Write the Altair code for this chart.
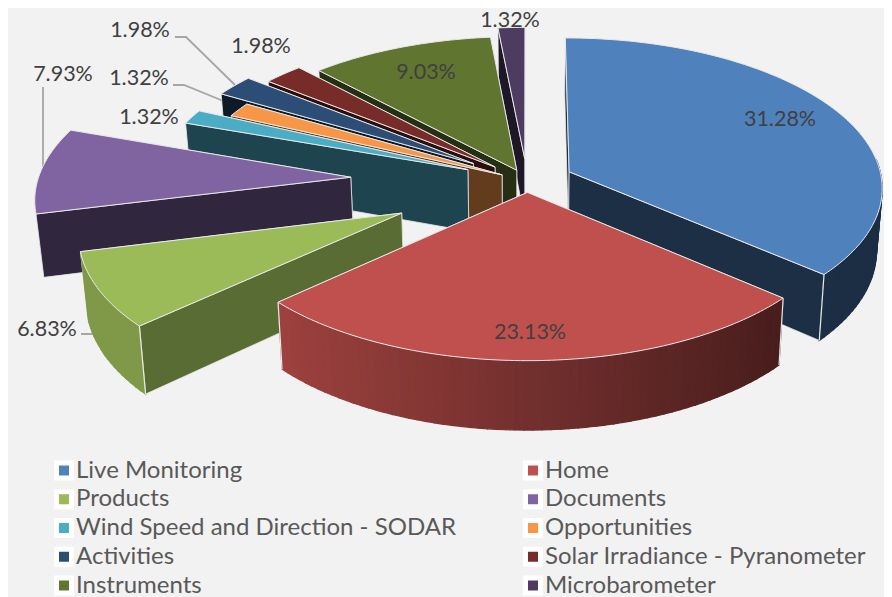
import math
import altair as alt

# ---- data ----
names = ["Live Monitoring", "Home", "Products", "Documents",
         "Wind Speed and Direction - SODAR", "Opportunities", "Activities",
         "Solar Irradiance - Pyranometer", "Instruments", "Microbarometer"]
shares = [31.28, 23.13, 6.83, 7.93, 1.32, 1.32, 1.98, 1.98, 9.03, 1.32]
colors = ["#4f81bd", "#c0504d", "#9bbb59", "#8064a2", "#4bacc6",
          "#f79646", "#2c4d75", "#772c2a", "#5f7530", "#4d3b62"]
labels = ["31.28%", "23.13%", "6.83%", "7.93%", "1.32%",
          "1.32%", "1.98%", "1.98%", "9.03%", "1.32%"]

# ---- look of the 3D pie ----
explode = [0.149, 0.076, 0.445, 0.565, 0.205, 0.09, 0.21, 0.14, 0.08, 0.15]
wall_shade = [0.37, 0.40, 0.58, 0.38, 0.40, 0.40, 0.35, 0.35, 0.40, 0.40]
paint_order = [9, 8, 7, 6, 5, 4, 3, 2, 0, 1]
CX, CY, RX, RY, D, H, K = 527, 181, 313, 149, 10.0, 62, 0.016
OFF = 8  # page margin
BG = "#f2f2f2"
EDGE = "#e9e9e9"

label_xy = [(780, 120), (530, 333), (47, 330), (63, 75), (149, 118),
            (139, 79), (140, 31), (261, 47), (426, 73), (510, 21)]
leaders = [[(175, 37), (186, 37), (235, 85)],
           [(173, 85), (184, 85), (238, 107)],
           [(43, 87), (43, 170)],
           [(81, 334), (94, 334), (106, 357)]]


def proj(X, Y, low=False):
    s = 1 / (1 + Y / D)
    x = CX + RX * X * s
    y = CY - RY * Y * s
    if low:
        x = CX + (x - CX) * (1 - K)
        y = y + H * s
    return [x - OFF, y - OFF]


def shade(hexcol, f):
    r, g, b = (int(hexcol[i:i + 2], 16) for i in (1, 3, 5))
    return "#%02x%02x%02x" % (int(r * f), int(g * f), int(b * f))


def feat(coords, fill, stroke, sw, kind="Polygon"):
    geom = {"type": kind, "coordinates": [coords + [coords[0]]] if kind == "Polygon" else coords}
    return {"type": "Feature", "geometry": geom,
            "properties": {"fill": fill, "stroke": stroke, "sw": sw}}


features = [feat([[a - OFF, b - OFF] for a, b in ln], "transparent", "#a6a6a6", 1.8, "LineString")
            for ln in leaders]

total = sum(shares)
spans = []
acc = 0.0
for v in shares:
    spans.append((acc / total * 360, (acc + v) / total * 360))
    acc += v

for i in paint_order:
    a0, a1 = spans[i]
    mid = math.radians((a0 + a1) / 2)
    ox, oy = explode[i] * math.sin(mid), explode[i] * math.cos(mid)
    col = colors[i]

    def pt(deg, r=1.0):
        t = math.radians(deg)
        return ox + r * math.sin(t), oy + r * math.cos(t)

    wall = shade(col, wall_shade[i])
    # radial walls: the one facing away first
    order = [a0, a1] if (a0 + a1) / 2 < 180 else [a1, a0]
    for a in order:
        X, Y = pt(a)
        features.append(feat([proj(ox, oy), proj(X, Y), proj(X, Y, True), proj(ox, oy, True)],
                             wall, EDGE, 0.8))
    # outer wall, in strips, only where it faces the viewer
    lo, hi = max(a0, 85.0), min(a1, 255.0)
    if lo < hi:
        n = max(2, int((hi - lo) / 1.5))
        for k in range(n):
            d0 = lo + (hi - lo) * k / n
            d1 = lo + (hi - lo) * (k + 1) / n
            f = max(0.36, min(0.82, 0.6 - 0.3 * math.sin(math.radians((d0 + d1) / 2))))
            c = shade(col, f)
            p0, p1 = pt(d0), pt(d1)
            features.append(feat([proj(*p0), proj(*p1), proj(*p1, True), proj(*p0, True)], c, c, 1.2))
        # light seam where the outer wall meets a radial wall
        for a in (a0, a1):
            if lo <= a <= hi:
                p = pt(a)
                features.append(feat([proj(*p), proj(*p, True)], "transparent", EDGE, 1.2, "LineString"))
    # top face
    n = max(4, int(a1 - a0))
    arc = [proj(*pt(a0 + (a1 - a0) * k / n)) for k in range(n + 1)]
    features.append(feat([proj(ox, oy)] + arc, col, EDGE, 1.0))

FONT = "Lato"

pie = alt.Chart(alt.Data(values=features)).mark_geoshape().encode(
    fill=alt.Fill("properties.fill:N", scale=None, legend=None),
    stroke=alt.Stroke("properties.stroke:N", scale=None, legend=None),
    strokeWidth=alt.StrokeWidth("properties.sw:Q", scale=None, legend=None),
).project(type="identity", scale=1, translate=[0, 0])

text_rows = [{"t": t, "px": x - OFF, "py": y - OFF} for t, (x, y) in zip(labels, label_xy)]
text = alt.Chart(alt.Data(values=text_rows)).mark_text(
    font=FONT, fontSize=21.5, color="#404040", align="center", baseline="middle"
).encode(
    x=alt.X("px:Q", scale=None, axis=None),
    y=alt.Y("py:Q", scale=None, axis=None),
    text="t:N",
)

legend_rows = [{"name": n} for n in names]
legend = alt.Chart(alt.Data(values=legend_rows)).mark_point(
    shape="square", filled=True, opacity=0, size=225
).encode(
    x=alt.value(-50), y=alt.value(-50),
    color=alt.Color(
        "name:N",
        scale=alt.Scale(domain=names, range=colors),
        legend=alt.Legend(
            title=None, orient="none", legendX=44, legendY=450, columns=2,
            direction="horizontal", columnPadding=65, rowPadding=3.75,
            labelFont=FONT, labelFontSize=24, labelColor="#595959",
            labelLimit=500, labelOffset=0, symbolType="square", symbolSize=225,
            symbolOpacity=1, symbolStrokeColor="white", symbolStrokeWidth=5,
            clipHeight=25,
        ),
    ),
)

chart = alt.layer(pie, text, legend).properties(
    width=876, height=589, padding=0, background=BG,
    autosize=alt.AutoSizeParams(type="none"),
).configure_view(stroke=None)

chart.save("out.html", embed_options={"renderer": "svg", "actions": False})
